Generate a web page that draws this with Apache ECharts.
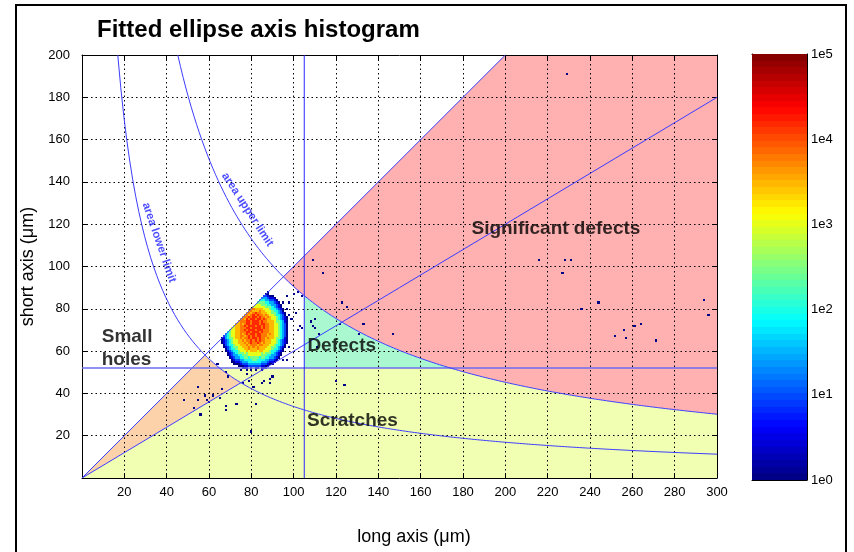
<!DOCTYPE html>
<html><head><meta charset="utf-8">
<script src="https://cdn.jsdelivr.net/npm/echarts/dist/echarts.min.js"></script>
<style>html,body{margin:0;padding:0;background:#fff}#c{width:854px;height:552px}</style>
</head><body><div id="c"></div>
<script>
// ---- limits (µm, µm²) ----
const AREA_LOWER = 3380;
const AREA_UPPER = 9050;
const RATIO_LIMIT = 0.6;
const SHORT_LIMIT = 52;
const LONG_LIMIT = 105;

// ---- 2D histogram of the main cluster: [short axis, first long axis, codes] (spaces only group the codes)
const codeCounts = {'1':1,'2':3,'3':10,'4':30,'5':100,'6':300,'7':1000,'8':3000,'9':6000,'a':15000};
const blobRows = [
 [88, 88, '1'],
 [87, 87, '11'],
 [86, 86, '33211'],
 [85, 85, '4443221'],
 [84, 84, '555443321'],
 [83, 83, '66665544321.1'],
 [82, 82, '7776665544321'],
 [81, 81, '777777 666 54321'],
 [80, 80, '898888 777 6 55 4321.1'],
 [79, 79, '89888988 777 6 55 431'],
 [78, 78, '8 989a99 888 77 66 54321'],
 [77, 77, '8989 a9a9 9898 7765 5431.1'],
 [76, 76, '899a 9aa9 a998 9877 6543 21'],
 [75, 75, '898a 9aa9 aa9a 9887 7654 321'],
 [74, 74, '8999 aa9a aa9a 9988 8766 5421'],
 [73, 73, '8898 9aa9 aaa9 aa99 8877 6543 1'],
 [72, 72, '7889 9a9a aa9a a9a9 9887 7654 31'],
 [71, 71, '7788 999a a9aa aa9a 9988 7765 431'],
 [70, 70, '6778 899a 9aaa 9aaa 9998 8776 5431'],
 [69, 69, '5677 8899 9aa9 aaa9 a999 8877 6543 1'],
 [68, 68, '4567 7889 89a9 aa9a a999 8987 7654 31'],
 [67, 67, '3456 7788 9989 a9a9 aa99 9888 7765 431'],
 [66, 66, '1245 6678 8989 9a9a a9a9 9898 8766 5421'],
 [65, 66, '1234 5677 8898 99a9 a9a9 9888 7765 4321'],
 [64, 66, '1234 5677 888 989a 99a9 8988 8776 54321'],
 [63, 67, '13455677888 98999899 888 77 6 55 431'],
 [62, 67, '12345 66 77 888 989898 888 77 66 54321'],
 [61, 68, '134 55 6 777 8898889888 777 6 55 431'],
 [60, 68, '1234 55 6 777 87888788 777 6 55 4321'],
 [59, 69, '12345 666 7677777767 666 54321'],
 [58, 69, '123 44 55 666 777777 666 55 44 321'],
 [57, 70, '123 44 55 6656666566 55 44 321'],
 [56, 71, '12 33 44 5555 66 5555 44 33 21'],
 [55, 71, '11 22 3 444 555555 444 3 22 1'],
 [54, 72, '1 11 2 333 444444 333 2 11'],
 [53, 74, '1 11 22 333333 22 11'],
 [52, 76, '1 11.1.11.11 1'],
 [51, 78, '1.1.1..1']
];

// ---- single-count events outside the cluster [long, short]
const outliers = [
 [48,37],[55,43],[55,37],[53,33],[56,30],[58,39],[59,37],[60,36],[62,39],[64,54],[65,38],[66,42],[68,34],[68,32],
 [69,48],[68,50],[73,35],[75,51],[76,45],[78,49],[79,46],[80,22],[81,43],[82,35],[85,45],[86,46],[89,45],[89,47],[90,48],
 [95,56],[97,56],[96,62],[98,62],[97,86],[98,83],[99,75],[100,87],[101,78],[102,88],[102,70],[103,72],[104,71],[104,86],
 [108,74],[109,72],[110,75],[110,71],[112,68],[111,62],[122,73],[123,83],[125,81],[131,68],[133,73],[147,68],
 [120,46],[124,44],
 [109,103],[114,97],[216,103],[228,103],[231,103],[227,97],[236,80],[244,83],[252,67],[256,70],[257,66],[261,72],
 [264,73],[271,65],[294,84],[296,77],[229,191]
];

const colorbarTicks = ['1e0','1e1','1e2','1e3','1e4','1e5'];
const regionNames = ['Significant defects','Defects','Scratches','Small holes'];

const regionLabels = [
 {text:'Small\nholes', x:9.3, y:61.5, left:true},
 {text:'Defects', x:122.7, y:62.4},
 {text:'Scratches', x:127.8, y:27.0},
 {text:'Significant defects', x:223.9, y:118}
];
const curveLabels = [
 {text:'area lower limit', x:36.4, y:111.3, angle:-71},
 {text:'area upper limit', x:78.2, y:126.9, angle:-57}
];

// ---------- build ----------
const FONT = 'Liberation Sans, Arial, Helvetica, sans-serif';
function jet(t){
  t = Math.max(0, Math.min(1, t));
  t = (Math.floor(t*63.999)+0.5)/64;
  const c = v => Math.max(0, Math.min(1, v));
  const r = c(1.5-Math.abs(4*t-3)), g = c(1.5-Math.abs(4*t-2)), b = c(1.5-Math.abs(4*t-1));
  return 'rgb('+Math.round(r*255)+','+Math.round(g*255)+','+Math.round(b*255)+')';
}
const cells = [];
blobRows.forEach(([y, x0, s]) => {
  const codes = s.replace(/ /g, '');
  for (let i = 0; i < codes.length; i++) {
    if (codes[i] === '.') continue;
    cells.push([x0+i, y, codeCounts[codes[i]]]);
  }
});
outliers.forEach(([x, y]) => cells.push([x, y, 1]));

function curve(A, xa, xb) {
  const pts = [];
  const n = 200;
  for (let i = 0; i <= n; i++) { const x = xa + (xb-xa)*i/n; pts.push([x, A/x]); }
  return pts;
}
const sU = Math.sqrt(AREA_UPPER), sL = Math.sqrt(AREA_LOWER), xLR = Math.sqrt(AREA_LOWER/RATIO_LIMIT);
const polys = [
  [[sU,sU],[200,200],[300,200],[300,AREA_UPPER/300]].concat(curve(AREA_UPPER,300,sU)),
  [[LONG_LIMIT,SHORT_LIMIT],[LONG_LIMIT,AREA_UPPER/LONG_LIMIT]].concat(curve(AREA_UPPER,LONG_LIMIT,AREA_UPPER/SHORT_LIMIT)),
  [[0,0],[300,0],[300,AREA_UPPER/300]].concat(curve(AREA_UPPER,300,AREA_UPPER/SHORT_LIMIT),[[AREA_LOWER/SHORT_LIMIT,SHORT_LIMIT]],curve(AREA_LOWER,AREA_LOWER/SHORT_LIMIT,xLR)),
  [[0,0],[sL,sL]].concat(curve(AREA_LOWER,sL,xLR))
];
const polyColors = ['#ffb0b0','#aaf8d0','#f1ffb2','#fcd2aa'];

const lineStyleBlue = {color:'#3c3cff', width:1};
const lineDefs = [
  {data:[[0,0],[200,200]], style:lineStyleBlue},
  {data:[[0,0],[300,300*RATIO_LIMIT]], style:lineStyleBlue},
  {data:[[0,SHORT_LIMIT],[300,SHORT_LIMIT]], style:{color:'#6c6cf0', width:1.6}},
  {data:[[LONG_LIMIT,0],[LONG_LIMIT,200]], style:{color:'#2a2aff', width:1}},
  {data:curve(AREA_LOWER, AREA_LOWER/200, 300), style:lineStyleBlue},
  {data:curve(AREA_UPPER, AREA_UPPER/200, 300), style:lineStyleBlue}
];

const axisCommon = {
  axisLine:{show:true, onZero:false, lineStyle:{color:'#000', width:1}},
  axisTick:{show:true, inside:true, length:5, lineStyle:{color:'#000'}},
  z:2
};
const labelStyle = {color:'#000', fontSize:13, fontFamily:FONT};
const gridDots = {show:true, lineStyle:{color:'#000', type:[1.5,3], width:1}};

const series = [];
series.push({
  type:'custom', name:'regions', xAxisIndex:0, yAxisIndex:0, z:1, silent:true, clip:true,
  data: regionNames.map((n,i)=>[i]),
  renderItem(params, api){
    const pts = polys[params.dataIndex].map(p => api.coord(p));
    return {type:'polygon', shape:{points:pts}, style:{fill:polyColors[params.dataIndex], stroke:null}};
  }
});
series.push({
  type:'custom', name:'histogram', xAxisIndex:0, yAxisIndex:0, z:3, silent:true,
  data: cells,
  renderItem(params, api){
    const x = api.value(0), y = api.value(1), c = api.value(2);
    const p0 = api.coord([x-0.5, y+0.5]), p1 = api.coord([x+0.5, y-0.5]);
    const X0 = Math.round(p0[0]), Y0 = Math.round(p0[1]), X1 = Math.round(p1[0]), Y1 = Math.round(p1[1]);
    return {type:'rect', shape:{x:X0, y:Y0, width:X1-X0, height:Y1-Y0}, style:{fill:jet(Math.log10(c)/5)}};
  }
});
lineDefs.forEach(l => series.push({
  type:'line', xAxisIndex:0, yAxisIndex:0, z:4, silent:true, showSymbol:false, symbol:'none',
  data:l.data, lineStyle:l.style, animation:false
}));
series.push({
  type:'scatter', xAxisIndex:0, yAxisIndex:0, z:5, silent:true, symbolSize:0.1,
  itemStyle:{color:'transparent'},
  data: regionLabels.map(r => ({
    value:[r.x, r.y],
    label:{show:true, formatter:r.text, position:r.left?'right':'inside', distance:0,
      align:r.left?'left':'center', verticalAlign:'middle',
      color:'#000', fontWeight:'bold', fontSize:19, lineHeight:23, fontFamily:FONT}
  })).concat(curveLabels.map(r => ({
    value:[r.x, r.y],
    label:{show:true, formatter:r.text, position:'inside', rotate:r.angle,
      color:'#1e1eff', fontWeight:'bold', fontSize:11.5, fontFamily:FONT}
  })))
});
series.push({
  type:'custom', name:'colorbar', xAxisIndex:2, yAxisIndex:2, z:3, silent:true,
  data: Array.from({length:64}, (_, k) => [0.5, k*5/64, (k+1)*5/64]),
  renderItem(params, api){
    const lo = api.value(1), hi = api.value(2);
    const p0 = api.coord([0, hi]), p1 = api.coord([1, lo]);
    const Y0 = Math.round(p0[1]), Y1 = Math.round(p1[1]);
    return {type:'rect', shape:{x:p0[0], y:Y0, width:p1[0]-p0[0], height:Y1-Y0}, style:{fill:jet((lo+hi)/2/5)}};
  }
});

const option = {
  animation:false,
  backgroundColor:'#fff',
  title:{text:'Fitted ellipse axis histogram', left:92, top:13,
    textStyle:{fontSize:24, fontWeight:'bold', color:'#000', fontFamily:FONT}},
  grid:[
    {left:82, top:55, width:635, height:423},
    {left:752, top:54, width:55, height:426}
  ],
  xAxis:[
    Object.assign({}, axisCommon, {gridIndex:0, type:'value', min:0, max:300, interval:20, position:'bottom',
      axisLabel:Object.assign({margin:8, formatter:v => v === 0 ? '' : String(v)}, labelStyle),
      splitLine:gridDots,
      name:'long axis (\u03bcm)', nameLocation:'middle', nameGap:50,
      nameTextStyle:{fontSize:18, color:'#000', fontFamily:FONT, padding:[0,0,0,29]}}),
    Object.assign({}, axisCommon, {gridIndex:0, type:'value', min:0, max:300, interval:20, position:'top',
      axisLabel:{show:false}, splitLine:{show:false}}),
    Object.assign({}, axisCommon, {gridIndex:1, type:'value', min:0, max:1, position:'bottom',
      axisTick:{show:false}, axisLabel:{show:false}, splitLine:{show:false}}),
    Object.assign({}, axisCommon, {gridIndex:1, type:'value', min:0, max:1, position:'top',
      axisTick:{show:false}, axisLabel:{show:false}, splitLine:{show:false}})
  ],
  yAxis:[
    Object.assign({}, axisCommon, {gridIndex:0, type:'value', min:0, max:200, interval:20, position:'left',
      axisLabel:Object.assign({margin:12, formatter:v => v === 0 ? '' : String(v)}, labelStyle),
      splitLine:gridDots,
      name:'short axis (\u03bcm)', nameLocation:'middle', nameGap:43,
      nameTextStyle:{fontSize:18, color:'#000', fontFamily:FONT}}),
    Object.assign({}, axisCommon, {gridIndex:0, type:'value', min:0, max:200, interval:20, position:'right',
      axisLabel:{show:false}, splitLine:{show:false}}),
    Object.assign({}, axisCommon, {gridIndex:1, type:'value', min:0, max:5, interval:1, position:'right',
      axisTick:{show:true, inside:true, length:4, lineStyle:{color:'#000'}},
      axisLabel:Object.assign({margin:4, formatter:v => colorbarTicks[Math.round(v)]}, labelStyle),
      splitLine:{show:false}}),
    Object.assign({}, axisCommon, {gridIndex:1, type:'value', min:0, max:5, interval:1, position:'left',
      axisTick:{show:true, inside:true, length:4, lineStyle:{color:'#000'}},
      axisLabel:{show:false}, splitLine:{show:false}})
  ],
  graphic:[
    {type:'rect', shape:{x:16, y:5, width:830, height:560}, style:{fill:'none', stroke:'#000', lineWidth:2}, silent:true, z:100}
  ],
  series
};
const chart = echarts.init(document.getElementById('c'), null, {renderer:'canvas'});
chart.setOption(option);
</script>
</body></html>
